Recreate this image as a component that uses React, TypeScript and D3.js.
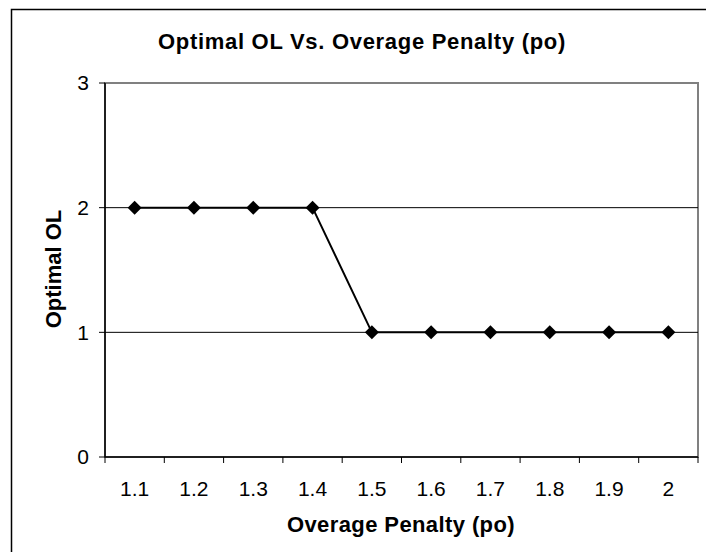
import React from "react";
import * as d3 from "d3";

const categories = ["1.1", "1.2", "1.3", "1.4", "1.5", "1.6", "1.7", "1.8", "1.9", "2"];
const optimalOL = [2, 2, 2, 2, 1, 1, 1, 1, 1, 1];
const yTicks = [0, 1, 2, 3];
const gridValues = [1, 2];

const W = 706;
const H = 552;
const plot = { left: 105, top: 83, right: 698, bottom: 457 };
const FONT = "Arial, 'Liberation Sans', Helvetica, sans-serif";

export default function App() {
  const x = d3.scaleBand<string>().domain(categories).range([plot.left, plot.right]);
  const y = d3.scaleLinear().domain([0, 3]).range([plot.bottom, plot.top]);
  const cx = (c: string) => (x(c) as number) + x.bandwidth() / 2;
  const line = d3
    .line<number>()
    .x((_, i) => cx(categories[i]))
    .y((d) => y(d));
  const boundaries = categories.map((c) => x(c) as number).concat([plot.right]);

  return (
    <svg
      width={W}
      height={H}
      style={{ position: "absolute", left: 0, top: 0, display: "block" }}
    >
      <rect x={0} y={0} width={W} height={H} fill="#fff" />
      <rect x={11.5} y={9.5} width={W + 10} height={H + 10} fill="#fff" stroke="#000" strokeWidth={1.5} />
      <text
        x={362}
        y={49}
        textAnchor="middle"
        fontFamily={FONT}
        fontWeight="bold"
        fontSize={22}
        letterSpacing={0.7}
      >
        Optimal OL Vs. Overage Penalty (po)
      </text>
      {/* plot area border */}
      <rect
        x={plot.left}
        y={plot.top}
        width={plot.right - plot.left}
        height={plot.bottom - plot.top}
        fill="#fff"
        stroke="#808080"
        strokeWidth={2}
      />
      {gridValues.map((v) => (
        <line key={v} x1={plot.left} x2={plot.right} y1={y(v)} y2={y(v)} stroke="#000" strokeWidth={1} />
      ))}
      {/* y axis */}
      <line x1={plot.left} x2={plot.left} y1={plot.top} y2={plot.bottom} stroke="#000" strokeWidth={1.5} />
      {yTicks.map((t) => (
        <g key={t}>
          <line x1={plot.left - 6} x2={plot.left} y1={y(t)} y2={y(t)} stroke="#000" strokeWidth={1} />
          <text
            x={plot.left - 16}
            y={y(t)}
            dy="0.35em"
            textAnchor="end"
            fontFamily={FONT}
            fontSize={21}
          >
            {t}
          </text>
        </g>
      ))}
      {/* x axis */}
      <line x1={plot.left} x2={plot.right} y1={plot.bottom} y2={plot.bottom} stroke="#000" strokeWidth={1.5} />
      {boundaries.map((b, i) => (
        <line key={i} x1={b} x2={b} y1={plot.bottom} y2={plot.bottom + 6} stroke="#000" strokeWidth={1} />
      ))}
      {categories.map((c) => (
        <text key={c} x={cx(c)} y={496} textAnchor="middle" fontFamily={FONT} fontSize={21}>
          {c}
        </text>
      ))}
      <path d={line(optimalOL) ?? ""} fill="none" stroke="#000" strokeWidth={2} />
      {optimalOL.map((v, i) => {
        const px = cx(categories[i]);
        const py = y(v);
        const s = 7;
        return (
          <path
            key={i}
            d={`M${px},${py - s}L${px + s},${py}L${px},${py + s}L${px - s},${py}Z`}
            fill="#000"
          />
        );
      })}
      <text
        x={401}
        y={532}
        textAnchor="middle"
        fontFamily={FONT}
        fontWeight="bold"
        fontSize={22}
        letterSpacing={0.4}
      >
        Overage Penalty (po)
      </text>
      <text
        transform={`translate(${61},${269}) rotate(-90)`}
        textAnchor="middle"
        fontFamily={FONT}
        fontWeight="bold"
        fontSize={22}
      >
        Optimal OL
      </text>
    </svg>
  );
}
